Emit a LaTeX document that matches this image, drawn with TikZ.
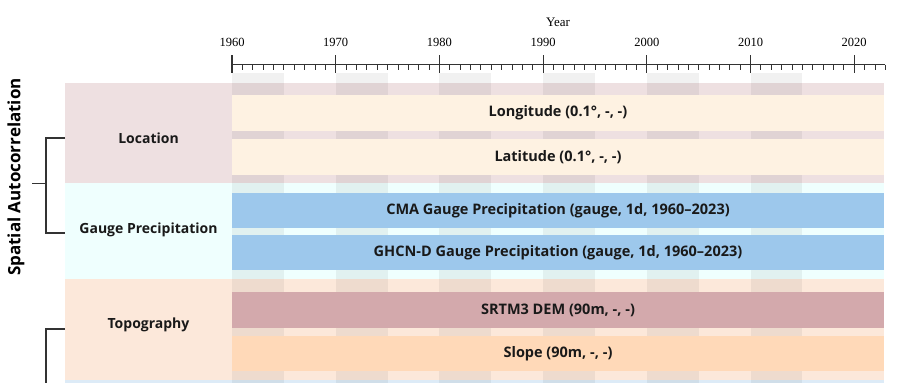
\documentclass[tikz,border=0pt]{standalone}
\usepackage{fontspec}
\setmainfont{Open Sans}
\newfontfamily\axisfont{Liberation Serif}
\usetikzlibrary{positioning}

\definecolor{locbg}{HTML}{EEE0E1}
\definecolor{gaugebg}{HTML}{EFFFFE}
\definecolor{topobg}{HTML}{FCE8DA}
\definecolor{nextbg}{HTML}{DDEBF7}
\definecolor{creambar}{HTML}{FEF2E2}
\definecolor{bluebar}{HTML}{9DC8EC}
\definecolor{dembar}{HTML}{D3A9AC}
\definecolor{slopebar}{HTML}{FFD9B8}
\definecolor{inkgray}{HTML}{333333}

\begin{document}
\begin{tikzpicture}[
    x=1pt, y=-1pt,
    font=\bfseries\fontsize{14.5}{16}\selectfont,
    grp/.style={inner sep=0pt, minimum width=819pt, anchor=north west},
    grplabel/.style={inner sep=1pt, text=black!90, font=\bfseries\fontsize{14}{16}\selectfont},
    bar/.style={inner sep=0pt, minimum width=652pt, text=black!90},
    band/.style={fill=black, fill opacity=0.055, draw=none},
    axisln/.style={draw=inkgray, line width=0.9pt},
    brace/.style={draw=inkgray, line width=1.3pt},
  ]
    \useasboundingbox (0,0) rectangle (900,383);
    \clip (0,0) rectangle (900,383);

    % time axis
    \node[font=\axisfont\fontsize{13}{15}\selectfont] (yearlbl) at (558,22) {Year};
    \draw[axisln] (232,64.5) -- (885,64.5);
    \foreach \yr in {1960,1970,...,2020} {
      \draw[axisln, line width=1.2pt] ({232+(\yr-1960)*10.37},55) -- ++(0,18);
      \node[font=\axisfont\fontsize{12.5}{14}\selectfont] at ({232+(\yr-1960)*10.37},42) {\yr};
    }
    \foreach \yr in {1961,...,2023} {
      \pgfmathtruncatemacro{\rem}{mod(\yr,10)}
      \ifnum\rem=0\else
        \draw[axisln, line width=0.8pt] ({232+(\yr-1960)*10.37},64.5) -- ++(0,5);
      \fi
    }

    % group backgrounds
    \node[grp, fill=locbg, minimum height=100pt] (loc) at (65,83) {};
    \node[grp, fill=gaugebg, minimum height=96pt] (gauge) at (65,183) {};
    \node[grp, fill=topobg, minimum height=101pt] (topo) at (65,279) {};
    \node[grp, fill=nextbg, minimum height=20pt] (grpnext) at (65,380) {};

    % five-year shading
    \foreach \yr in {1960,1970,...,2010}
      \fill[band] ({232+(\yr-1960)*10.37},73) rectangle ({232+(\yr-1955)*10.37},400);

    % group names
    \node[grplabel] (locname) at (148.5,138) {Location};
    \node[grplabel] (gaugename) at (148.5,230) {Gauge Precipitation};
    \node[grplabel] (toponame) at (148.5,325) {Topography};

    % data bars
    \node[bar, fill=creambar, minimum height=36pt] (lon) at (558,113) {Longitude (0.1°, -, -)};
    \node[bar, fill=creambar, minimum height=36pt] (lat) at (558,157) {Latitude (0.1°, -, -)};
    \node[bar, fill=bluebar, minimum height=35pt] (cma) at (558,210.5) {CMA Gauge Precipitation (gauge, 1d, 1960–2023)};
    \node[bar, fill=bluebar, minimum height=35pt] (ghcn) at (558,252.5) {GHCN-D Gauge Precipitation (gauge, 1d, 1960–2023)};
    \node[bar, fill=dembar, minimum height=36pt] (dem) at (558,310) {SRTM3 DEM (90m, -, -)};
    \node[bar, fill=slopebar, minimum height=35pt] (slope) at (558,353.5) {Slope (90m, -, -)};

    % brackets
    \node[rotate=90, font=\bfseries\fontsize{17}{19}\selectfont] (spatial) at (16,177) {Spatial Autocorrelation};
    \draw[brace] (loc.west |- 0,138) -- ++(-19,0) |- (gauge.west |- 0,233);
    \coordinate (spatialtip) at (46,183.5);
    \draw[brace] (spatialtip) -- ++(-14,0);
    \draw[brace] (topo.west |- 0,329) -- ++(-19,0) -- ++(0,70);
  \end{tikzpicture}
\end{document}
